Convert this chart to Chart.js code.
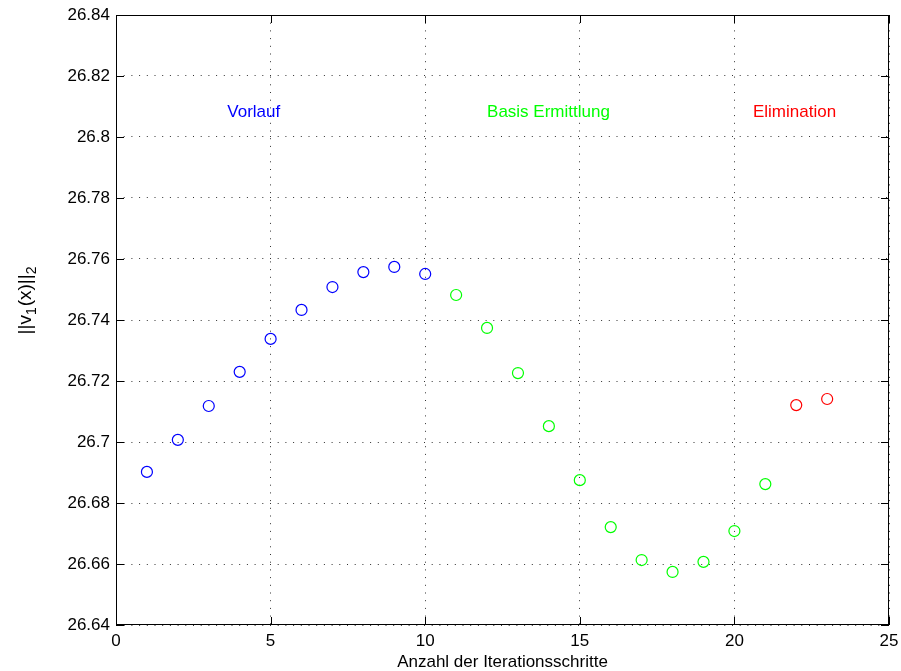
<!DOCTYPE html>
<html>
<head>
<meta charset="utf-8">
<script src="https://cdn.jsdelivr.net/npm/chart.js@4/dist/chart.umd.min.js"></script>
<style>
html,body{margin:0;padding:0;background:#fff;}
#wrap{width:901px;height:671px;}
</style>
</head>
<body>
<div id="wrap"><canvas id="c" width="901" height="671"></canvas></div>
<script>
// Data
const vorlaufX = [1,2,3,4,5,6,7,8,9,10];
const vorlaufY = [26.6902,26.7007,26.7118,26.7230,26.7338,26.7433,26.7508,26.7557,26.7574,26.7551];
const basisX = [11,12,13,14,15,16,17,18,19,20,21];
const basisY = [26.7482,26.7374,26.7226,26.7052,26.6875,26.6721,26.6613,26.6574,26.6607,26.6708,26.6862];
const elimX = [22,23];
const elimY = [26.7121,26.7141];

const phaseNames = ['Vorlauf','Basis Ermittlung','Elimination'];
const phaseColors = ['#0000FF','#00FF00','#FF0000'];
const phaseLabelX = [3.6, 12.0, 20.6];
const phaseLabelY = [26.8066, 26.8066, 26.8066];

const xTicks = [0,5,10,15,20,25];
const yTicks = [26.64,26.66,26.68,26.70,26.72,26.74,26.76,26.78,26.80,26.82,26.84];
const xTitle = 'Anzahl der Iterationsschritte';

const FONT = '"Liberation Sans", Arial, Helvetica, sans-serif';

function pts(xs, ys){ return xs.map((x,i)=>({x:x, y:ys[i]})); }

const decorPlugin = {
  id: 'decor',
  afterDraw(chart){
    const ctx = chart.ctx;
    const a = chart.chartArea;
    const xs = chart.scales.x, ys = chart.scales.y;
    ctx.save();
    // box
    ctx.strokeStyle = '#000';
    ctx.lineWidth = 1;
    ctx.strokeRect(a.left+0.5, a.top+0.5, a.right-a.left-1, a.bottom-a.top-1);
    // inward ticks
    const tl = 8;
    ctx.beginPath();
    xTicks.forEach(v=>{
      const p = Math.round(xs.getPixelForValue(v))+0.5;
      ctx.moveTo(p, a.bottom); ctx.lineTo(p, a.bottom-tl);
      ctx.moveTo(p, a.top); ctx.lineTo(p, a.top+tl);
    });
    yTicks.forEach(v=>{
      const p = Math.round(ys.getPixelForValue(v))+0.5;
      ctx.moveTo(a.left, p); ctx.lineTo(a.left+tl, p);
      ctx.moveTo(a.right, p); ctx.lineTo(a.right-tl, p);
    });
    ctx.stroke();
    // phase labels
    ctx.font = '17px ' + FONT;
    ctx.textBaseline = 'alphabetic';
    ctx.textAlign = 'left';
    phaseNames.forEach((n,i)=>{
      ctx.fillStyle = phaseColors[i];
      ctx.fillText(n, xs.getPixelForValue(phaseLabelX[i]), ys.getPixelForValue(phaseLabelY[i]));
    });
    // x title
    ctx.fillStyle = '#000';
    ctx.textAlign = 'center';
    ctx.fillText(xTitle, (a.left+a.right)/2, 667);
    // y title: ||v_1(x)||_2
    const parts = [
      {t:'||v', sub:false},
      {t:'1', sub:true},
      {t:'(x)||', sub:false},
      {t:'2', sub:true}
    ];
    const mainF = '19px ' + FONT, subF = '14px ' + FONT;
    let total = 0;
    parts.forEach(p=>{ ctx.font = p.sub?subF:mainF; p.w = ctx.measureText(p.t).width + (p.sub?1:0); total += p.w; });
    ctx.translate(31, 300);
    ctx.rotate(-Math.PI/2);
    ctx.textAlign = 'left';
    let cx = -total/2;
    parts.forEach(p=>{
      ctx.font = p.sub?subF:mainF;
      ctx.fillText(p.t, cx, p.sub?5:0);
      cx += p.w;
    });
    ctx.restore();
  }
};

new Chart(document.getElementById('c'), {
  type: 'scatter',
  data: {
    datasets: [
      {label: phaseNames[0], data: pts(vorlaufX, vorlaufY), borderColor: phaseColors[0]},
      {label: phaseNames[1], data: pts(basisX, basisY), borderColor: phaseColors[1]},
      {label: phaseNames[2], data: pts(elimX, elimY), borderColor: phaseColors[2]}
    ].map(d=>Object.assign(d, {
      backgroundColor: 'rgba(0,0,0,0)',
      pointStyle: 'circle',
      pointRadius: 5.5,
      pointHoverRadius: 5.5,
      pointBorderWidth: 1.2,
      showLine: false
    }))
  },
  options: {
    responsive: false,
    animation: false,
    devicePixelRatio: 1,
    layout: {padding: {left: 0, right: 12, top: 15, bottom: 0}},
    plugins: {legend: {display: false}, tooltip: {enabled: false}},
    events: [],
    scales: {
      x: {
        type: 'linear', min: 0, max: 25,
        afterBuildTicks(s){ s.ticks = xTicks.map(v=>({value:v})); },
        afterFit(s){ s.height = 46; s.paddingLeft = 0; s.paddingRight = 0; },
        ticks: {font: {size: 17, family: FONT}, color: '#000', padding: 6, maxRotation: 0, autoSkip: false},
        grid: {color: '#333', lineWidth: 1, drawTicks: false},
        border: {display: false, dash: [1, 6.7]}
      },
      y: {
        type: 'linear', min: 26.64, max: 26.84,
        afterBuildTicks(s){ s.ticks = yTicks.map(v=>({value:v})); },
        afterFit(s){ s.width = 116; s.paddingTop = 0; s.paddingBottom = 0; },
        ticks: {font: {size: 17, family: FONT}, color: '#000', padding: 6, autoSkip: false,
          callback: v => String(parseFloat(v.toFixed(2)))},
        grid: {color: '#333', lineWidth: 1, drawTicks: false},
        border: {display: false, dash: [1, 6.7]}
      }
    }
  },
  plugins: [decorPlugin]
});
</script>
</body>
</html>
